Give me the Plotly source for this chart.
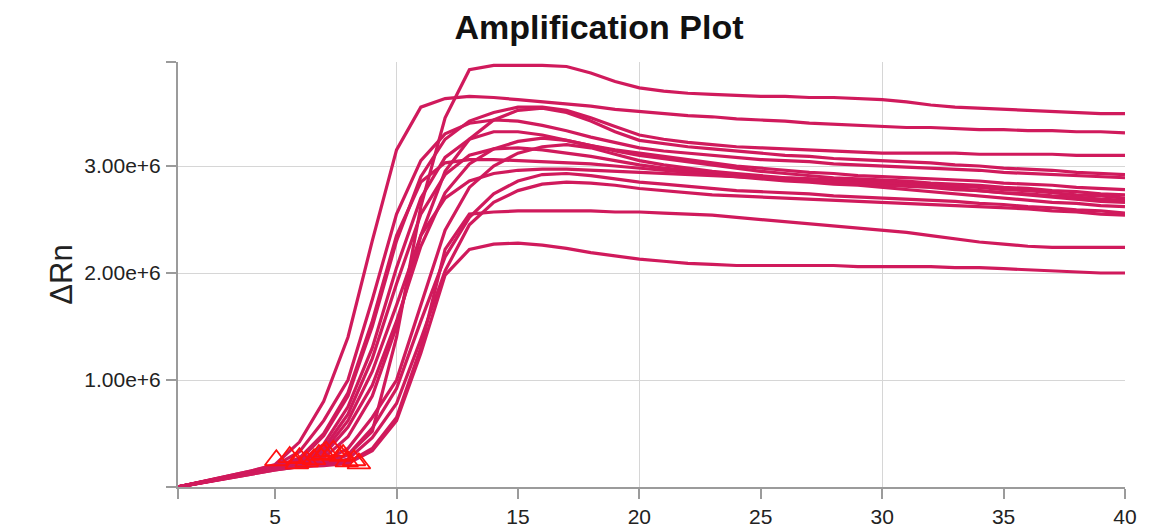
import plotly.graph_objects as go

cycles = list(range(1, 41))

# ΔRn values in millions, one list per well
well_a = [0.00, 0.04, 0.08, 0.125, 0.17, 0.20, 0.23, 0.30, 0.52, 1.40,
          2.62, 3.45, 3.90, 3.94, 3.94, 3.94, 3.93, 3.87, 3.79, 3.73,
          3.70, 3.68, 3.67, 3.66, 3.65, 3.65, 3.64, 3.64, 3.63, 3.62,
          3.60, 3.57, 3.55, 3.54, 3.53, 3.52, 3.51, 3.50, 3.49, 3.49]
well_b = [0.00, 0.05, 0.10, 0.15, 0.21, 0.42, 0.80, 1.40, 2.30, 3.15,
          3.55, 3.63, 3.65, 3.64, 3.62, 3.60, 3.58, 3.56, 3.53, 3.51,
          3.49, 3.47, 3.46, 3.44, 3.43, 3.42, 3.40, 3.39, 3.38, 3.37,
          3.36, 3.36, 3.35, 3.34, 3.34, 3.33, 3.33, 3.32, 3.32, 3.31]
well_c = [0.00, 0.045, 0.09, 0.14, 0.19, 0.25, 0.48, 0.85, 1.50, 2.30,
          2.90, 3.25, 3.42, 3.50, 3.55, 3.55, 3.52, 3.45, 3.37, 3.29,
          3.25, 3.22, 3.20, 3.18, 3.17, 3.16, 3.15, 3.14, 3.13, 3.12,
          3.12, 3.12, 3.12, 3.11, 3.11, 3.11, 3.11, 3.10, 3.10, 3.10]
well_d = [0.00, 0.045, 0.09, 0.135, 0.18, 0.21, 0.27, 0.47, 0.85, 1.50,
          2.35, 2.95, 3.25, 3.43, 3.52, 3.54, 3.50, 3.42, 3.32, 3.24,
          3.21, 3.18, 3.16, 3.14, 3.12, 3.10, 3.09, 3.07, 3.06, 3.05,
          3.04, 3.03, 3.01, 3.00, 2.98, 2.97, 2.96, 2.94, 2.93, 2.92]
well_e = [0.00, 0.05, 0.095, 0.145, 0.20, 0.33, 0.62, 1.00, 1.75, 2.55,
          3.05, 3.30, 3.40, 3.43, 3.42, 3.38, 3.33, 3.27, 3.22, 3.17,
          3.14, 3.12, 3.10, 3.08, 3.06, 3.05, 3.04, 3.02, 3.01, 3.00,
          2.99, 2.98, 2.97, 2.96, 2.94, 2.93, 2.92, 2.91, 2.90, 2.89]
well_f = [0.00, 0.045, 0.09, 0.14, 0.19, 0.23, 0.40, 0.75, 1.30, 2.05,
          2.70, 3.08, 3.25, 3.32, 3.32, 3.29, 3.24, 3.19, 3.15, 3.12,
          3.09, 3.06, 3.03, 3.00, 2.98, 2.96, 2.94, 2.93, 2.91, 2.90,
          2.89, 2.88, 2.87, 2.86, 2.84, 2.83, 2.82, 2.80, 2.79, 2.78]
well_g = [0.00, 0.045, 0.09, 0.135, 0.18, 0.21, 0.30, 0.56, 0.95, 1.55,
          2.25, 2.75, 3.02, 3.16, 3.23, 3.26, 3.24, 3.19, 3.14, 3.10,
          3.07, 3.04, 3.01, 2.98, 2.95, 2.93, 2.91, 2.89, 2.88, 2.87,
          2.86, 2.84, 2.83, 2.82, 2.80, 2.79, 2.77, 2.76, 2.74, 2.73]
well_h = [0.00, 0.04, 0.085, 0.13, 0.17, 0.20, 0.24, 0.36, 0.65, 1.00,
          1.70, 2.40, 2.80, 3.00, 3.12, 3.18, 3.20, 3.17, 3.11, 3.05,
          3.01, 2.98, 2.95, 2.93, 2.91, 2.89, 2.88, 2.87, 2.86, 2.85,
          2.84, 2.82, 2.81, 2.80, 2.78, 2.77, 2.75, 2.73, 2.72, 2.70]
well_i = [0.00, 0.045, 0.09, 0.135, 0.18, 0.22, 0.36, 0.68, 1.20, 1.90,
          2.55, 2.92, 3.10, 3.16, 3.17, 3.15, 3.12, 3.09, 3.05, 3.01,
          2.98, 2.96, 2.94, 2.92, 2.90, 2.89, 2.88, 2.86, 2.85, 2.84,
          2.83, 2.81, 2.79, 2.77, 2.75, 2.73, 2.71, 2.69, 2.67, 2.66]
well_j = [0.00, 0.05, 0.095, 0.14, 0.19, 0.27, 0.50, 0.88, 1.55, 2.35,
          2.85, 3.03, 3.06, 3.06, 3.05, 3.04, 3.03, 3.02, 3.00, 2.98,
          2.96, 2.94, 2.92, 2.90, 2.88, 2.86, 2.85, 2.83, 2.82, 2.80,
          2.78, 2.76, 2.74, 2.72, 2.70, 2.68, 2.66, 2.65, 2.63, 2.62]
well_k = [0.00, 0.04, 0.085, 0.13, 0.17, 0.20, 0.22, 0.30, 0.55, 0.92,
          1.55, 2.15, 2.52, 2.74, 2.86, 2.92, 2.93, 2.91, 2.88, 2.85,
          2.83, 2.81, 2.79, 2.77, 2.76, 2.75, 2.74, 2.72, 2.71, 2.70,
          2.69, 2.68, 2.67, 2.65, 2.64, 2.62, 2.61, 2.59, 2.58, 2.56]
well_l = [0.00, 0.04, 0.085, 0.13, 0.17, 0.19, 0.21, 0.26, 0.46, 0.78,
          1.38, 2.02, 2.45, 2.66, 2.77, 2.83, 2.85, 2.84, 2.82, 2.79,
          2.77, 2.75, 2.73, 2.72, 2.71, 2.70, 2.69, 2.68, 2.67, 2.66,
          2.65, 2.64, 2.63, 2.62, 2.61, 2.60, 2.58, 2.57, 2.55, 2.54]
well_m = [0.00, 0.045, 0.09, 0.135, 0.18, 0.22, 0.33, 0.62, 1.08, 1.70,
          2.35, 2.70, 2.86, 2.93, 2.96, 2.97, 2.97, 2.96, 2.95, 2.94,
          2.93, 2.92, 2.91, 2.90, 2.89, 2.88, 2.86, 2.85, 2.84, 2.82,
          2.81, 2.80, 2.78, 2.77, 2.75, 2.74, 2.72, 2.71, 2.69, 2.68]
well_n = [0.00, 0.04, 0.08, 0.12, 0.16, 0.19, 0.21, 0.23, 0.36, 0.65,
          1.30, 2.22, 2.55, 2.57, 2.58, 2.58, 2.58, 2.58, 2.57, 2.57,
          2.56, 2.55, 2.54, 2.52, 2.50, 2.48, 2.46, 2.44, 2.42, 2.40,
          2.38, 2.35, 2.32, 2.29, 2.27, 2.25, 2.24, 2.24, 2.24, 2.24]
well_o = [0.00, 0.04, 0.08, 0.12, 0.16, 0.19, 0.20, 0.22, 0.34, 0.62,
          1.25, 1.98, 2.22, 2.27, 2.28, 2.26, 2.23, 2.19, 2.16, 2.13,
          2.11, 2.09, 2.08, 2.07, 2.07, 2.07, 2.07, 2.07, 2.06, 2.06,
          2.06, 2.06, 2.05, 2.05, 2.04, 2.03, 2.02, 2.01, 2.00, 2.00]

wells = [well_a, well_b, well_c, well_d, well_e, well_f, well_g, well_h,
         well_i, well_j, well_k, well_l, well_m, well_n, well_o]

# threshold-crossing (Ct) markers
ct_cycle = [7.8, 5.05, 6.0, 7.1, 5.6, 6.3, 7.0, 7.4, 6.6, 5.9, 7.7, 7.95, 6.8, 8.25, 8.45]
ct_drn = [0.30, 0.25, 0.27, 0.33, 0.28, 0.24, 0.31, 0.34, 0.26, 0.22, 0.29, 0.24, 0.30, 0.25, 0.22]

y_ticks = [0, 1e6, 2e6, 3e6, 3.972e6]
y_labels = ["", "1.00e+6", "2.00e+6", "3.00e+6", ""]
x_ticks = [1, 5, 10, 15, 20, 25, 30, 35, 40]
x_labels = ["", "5", "10", "15", "20", "25", "30", "35", "40"]
x_grid = [10, 20, 30, 40]
y_grid = [1e6, 2e6, 3e6]

SCALE = 1e6
LINE = "#d01a5c"
AXIS = "#9b9b9b"
FONT = "Liberation Sans, Arial, sans-serif"
W, H = 1165, 529

fig = go.Figure()
# dummy trace for grid overlay axes
fig.add_trace(go.Scatter(x=[None], y=[None], xaxis="x2", yaxis="y2",
                         showlegend=False, hoverinfo="skip"))
for w in wells:
    fig.add_trace(go.Scatter(x=cycles, y=[v * SCALE for v in w], mode="lines",
                             line=dict(color=LINE, width=3.2), showlegend=False))
fig.add_trace(go.Scatter(x=ct_cycle, y=[v * SCALE for v in ct_drn], mode="markers",
                         marker=dict(symbol="triangle-up-open", size=20,
                                     color="#ff1010", line=dict(width=1.8, color="#ff1010")),
                         showlegend=False))

x_range = [1, 40]
y_range = [0, 3.972e6]

fig.update_layout(
    width=W, height=H,
    margin=dict(l=170, r=48, t=54, b=50, autoexpand=False),
    paper_bgcolor="white", plot_bgcolor="white",
    font=dict(family=FONT, size=21, color="#222"),
    title=dict(text="Amplification Plot", x=591 / W, xref="container", xanchor="center",
               y=1 - 19 / H, yref="container", yanchor="middle",
               font=dict(family=FONT, size=34, color="#111", weight="bold")),
    xaxis=dict(range=x_range, tickmode="array", tickvals=x_ticks, ticktext=x_labels,
               showgrid=False, zeroline=False, showline=True, linecolor=AXIS, linewidth=2,
               ticks="outside", ticklen=10, tickwidth=2, tickcolor=AXIS, automargin=False,
               tickfont=dict(size=21, color="#222")),
    yaxis=dict(range=y_range, tickmode="array", tickvals=y_ticks, ticktext=y_labels,
               showgrid=False, zeroline=False, showline=True, linecolor=AXIS, linewidth=2,
               ticks="outside", ticklen=10, tickwidth=2, tickcolor=AXIS, automargin=False,
               ticklabelstandoff=1, tickfont=dict(size=21, color="#222"),
               title=dict(text="ΔRn", font=dict(size=31, color="#222"), standoff=2)),
    xaxis2=dict(range=x_range, overlaying="x", tickmode="array", tickvals=x_grid,
                showgrid=True, gridcolor="#d6d6d6", gridwidth=1.2, showticklabels=False,
                ticks="", zeroline=False, showline=False, automargin=False),
    yaxis2=dict(range=y_range, overlaying="y", tickmode="array", tickvals=y_grid,
                showgrid=True, gridcolor="#d6d6d6", gridwidth=1.2, showticklabels=False,
                ticks="", zeroline=False, showline=False, automargin=False),
)

fig.write_html("out.html")
